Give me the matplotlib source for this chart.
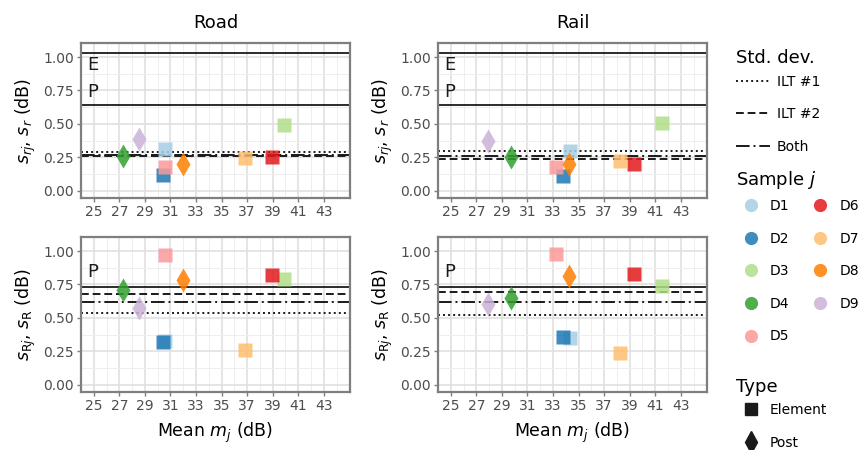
import numpy as np
import matplotlib.pyplot as plt
from matplotlib.lines import Line2D

# samples D1..D9
samples = ['D1', 'D2', 'D3', 'D4', 'D5', 'D6', 'D7', 'D8', 'D9']
sample_type = ['Element', 'Element', 'Element', 'Post', 'Element', 'Element', 'Element', 'Post', 'Post']
colors = ['#A6CEE3', '#1F78B4', '#B2DF8A', '#33A02C', '#FB9A99', '#E31A1C', '#FDBF6F', '#FF7F00', '#CAB2D6']

mean_road = [30.6, 30.45, 39.9, 27.3, 30.6, 38.95, 36.85, 31.95, 28.55]
mean_rail = [34.35, 33.8, 41.5, 29.7, 33.2, 39.35, 38.25, 34.25, 27.95]

sr_road = [0.31, 0.12, 0.49, 0.26, 0.18, 0.25, 0.245, 0.20, 0.39]
sr_rail = [0.30, 0.11, 0.51, 0.255, 0.18, 0.20, 0.225, 0.20, 0.37]
sR_road = [0.33, 0.32, 0.79, 0.71, 0.97, 0.82, 0.26, 0.78, 0.57]
sR_rail = [0.35, 0.36, 0.74, 0.645, 0.98, 0.83, 0.24, 0.81, 0.60]

# pooled std. dev. lines: ILT #1, ILT #2, Both
std_r_road = [0.29, 0.26, 0.265]
std_r_rail = [0.295, 0.235, 0.26]
std_R_road = [0.535, 0.68, 0.615]
std_R_rail = [0.52, 0.695, 0.615]
std_labels = ['ILT #1', 'ILT #2', 'Both']

# limits: E and P lines
limit_r = {'E': 1.03, 'P': 0.64}
limit_R = {'P': 0.73}

xticks = np.arange(25, 44, 2)
yticks = [0.0, 0.25, 0.5, 0.75, 1.0]

line_styles = [(0, (1, 1.6)), (0, (4, 2)), (0, (7, 2, 1, 2))]
markers = {'Element': 's', 'Post': 'd'}
msizes = {'Element': 10.5, 'Post': 12.5}

tick_col = '#4d4d4d'
plt.rcParams['font.family'] = 'DejaVu Sans'
plt.rcParams['mathtext.fontset'] = 'dejavusans'

fig = plt.figure(figsize=(8.65, 4.5), dpi=100)

W, H = 865, 450
def add_panel(x0, x1, y0, y1):
    return fig.add_axes([x0 / W, 1 - y1 / H, (x1 - x0) / W, (y1 - y0) / H])

panels = [
    (add_panel(81, 350, 43, 198), mean_road, sr_road, std_r_road, limit_r, r'$s_{rj}$, $s_{r}$ (dB)', 'Road'),
    (add_panel(438, 707, 43, 198), mean_rail, sr_rail, std_r_rail, limit_r, r'$s_{rj}$, $s_{r}$ (dB)', 'Rail'),
    (add_panel(81, 350, 237, 392), mean_road, sR_road, std_R_road, limit_R, r'$s_{\mathrm{R}j}$, $s_{\mathrm{R}}$ (dB)', None),
    (add_panel(438, 707, 237, 392), mean_rail, sR_rail, std_R_rail, limit_R, r'$s_{\mathrm{R}j}$, $s_{\mathrm{R}}$ (dB)', None),
]

for i, (ax, xs, ys, stds, lims, ylab, title) in enumerate(panels):
    ax.set_xlim(24.0, 45.05)
    ax.set_ylim(-0.055, 1.105)
    ax.set_xticks(xticks)
    ax.set_xticks(np.arange(24, 46, 2), minor=True)
    ax.set_yticks(yticks)
    ax.set_yticklabels(['%.2f' % v for v in yticks])
    ax.set_yticks(np.arange(0.125, 1.1, 0.25), minor=True)
    ax.grid(which='major', color='#e0e0e0', lw=1.2, zorder=0)
    ax.grid(which='minor', color='#eeeeee', lw=0.7, zorder=0)
    ax.set_axisbelow(True)
    for s in ax.spines.values():
        s.set_color('#7f7f7f')
        s.set_linewidth(1.6)
    ax.tick_params(which='major', length=3, width=1, color='#7f7f7f',
                   labelsize=10, labelcolor=tick_col, pad=2)
    ax.tick_params(which='minor', length=0)
    ax.set_ylabel(ylab, fontsize=12.5, labelpad=4)

    for name, val in lims.items():
        ax.axhline(val, color='#1a1a1a', lw=1.3, zorder=2)
    ypos = {'E': 0.94, 'P': 0.74} if 'E' in lims else {'P': 0.84}
    for name in lims:
        ax.text(24.45, ypos[name], name, fontsize=13, va='center', ha='left', color='#1a1a1a')

    for val, ls in zip(stds, line_styles):
        ax.axhline(val, color='#1a1a1a', lw=1.4, linestyle=ls, zorder=2)

    for x, y, t, c in zip(xs, ys, sample_type, colors):
        ax.plot(x, y, marker=markers[t], ms=msizes[t], color=c, mec='none',
                alpha=0.85, linestyle='none', zorder=3)

    if title:
        ax.set_title(title, fontsize=13, pad=10.8)
    if i >= 2:
        ax.set_xlabel(r'Mean $m_j$ (dB)', fontsize=12.5, labelpad=6)

# legends (titles drawn as text so the title gap can be set separately)
fs = 10
common = dict(loc='upper left', frameon=False, fontsize=fs, borderpad=0, borderaxespad=0)

fig.text(736 / W, 1 - 63 / H, 'Std. dev.', fontsize=13, va='baseline', ha='left')
std_handles = [Line2D([], [], color='#1a1a1a', lw=1.4, linestyle=ls) for ls in line_styles]
fig.legend(std_handles, std_labels, bbox_to_anchor=(736 / W, 1 - 75 / H),
           handlelength=2.45, handletextpad=0.5, labelspacing=1.32, **common)

fig.text(736 / W, 1 - 185 / H, 'Sample $j$', fontsize=13, va='baseline', ha='left')
samp_handles = [Line2D([], [], marker='o', ms=9.5, color=c, mec='none', linestyle='none', alpha=0.85)
                for c in colors]
fig.legend(samp_handles, samples, bbox_to_anchor=(741 / W, 1 - 199 / H), ncols=2,
           handlelength=1.4, handletextpad=0.66, labelspacing=1.34, columnspacing=1.55, **common)

fig.text(736 / W, 1 - 392 / H, 'Type', fontsize=13, va='baseline', ha='left')
type_handles = [Line2D([], [], marker=m, ms=s, color='#1a1a1a', linestyle='none')
                for m, s in [('s', 8.5), ('d', 11)]]
fig.legend(type_handles, ['Element', 'Post'], bbox_to_anchor=(741 / W, 1 - 403 / H),
           handlelength=1.4, handletextpad=0.66, labelspacing=1.34, **common)

fig.savefig('out.png', dpi=100)
